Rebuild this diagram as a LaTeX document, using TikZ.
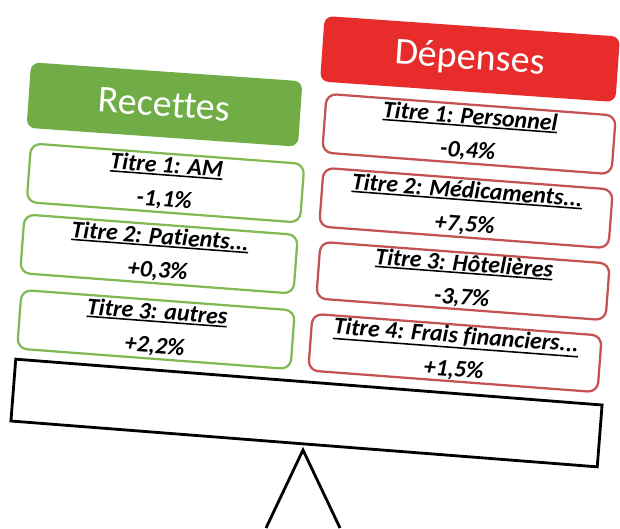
\documentclass[tikz,border=0pt]{standalone}
\usepackage{fontspec}
\setmainfont{Carlito}[Ligatures={NoCommon}]
\definecolor{recfill}{RGB}{112,173,71}
\definecolor{recline}{RGB}{128,186,84}
\definecolor{depfill}{RGB}{232,44,44}
\definecolor{depline}{RGB}{196,82,80}
\newcommand\souligne[1]{\leavevmode\vtop{\hbox{#1}\kern0.8pt\hrule height 1.1pt}}
\tikzset{
  header/.style={rounded corners=6pt, minimum height=1.64cm, text=white,
    font=\fontsize{27}{30}\selectfont, inner sep=0pt, rotate=-4},
  titrebox/.style={draw, line width=1.6pt, rounded corners=7pt, fill=white,
    align=center, minimum height=1.47cm, inner sep=0pt, rotate=-4.3,
    font=\fontsize{17}{24}\selectfont\bfseries\itshape},
  recbox/.style={titrebox, draw=recline, minimum width=6.85cm},
  depbox/.style={titrebox, draw=depline, minimum width=7.25cm},
}
\begin{document}
\begin{tikzpicture}[x=0.025cm,y=-0.025cm]
\useasboundingbox (0,0) rectangle (620,528);
\clip (0,0) rectangle (620,528);
\fill[white] (0,0) rectangle (620,528);

% support and beam
\coordinate (apex) at (303,450);
\coordinate (footL) at (266,528);
\coordinate (footR) at (340,528);
\draw[line width=2pt] (footL) -- (apex) -- (footR);
\node[draw, line width=2pt, minimum width=14.7cm, minimum height=1.55cm,
  rotate=-4.47] (beam) at (306.5,413) {};

% recettes
\node[header, fill=recfill, minimum width=6.8cm] (rec) at (164.5,104.5) {Recettes};
\node[recbox] (rec1) at (165.5,183) {\souligne{Titre 1: AM}\\-1,1\%};
\node[recbox] (rec2) at (159,254) {\souligne{Titre 2: Patients...}\\+0,3\%};
\node[recbox] (rec3) at (156,329.5) {\souligne{Titre 3: autres}\\+2,2\%};

% depenses
\node[header, fill=depfill, minimum width=7.4cm] (dep) at (470,59) {Dépenses};
\node[depbox] (dep1) at (469,134) {\souligne{Titre 1: Personnel}\\-0,4\%};
\node[depbox] (dep2) at (466,208) {\souligne{Titre 2: Médicaments...}\\+7,5\%};
\node[depbox, minimum height=1.42cm] (dep3) at (463,281) {\souligne{Titre 3: Hôtelières}\\-3,7\%};
\node[depbox, minimum height=1.42cm] (dep4) at (455,353) {\souligne{Titre 4: Frais financiers...}\\+1,5\%};
\end{tikzpicture}
\end{document}
